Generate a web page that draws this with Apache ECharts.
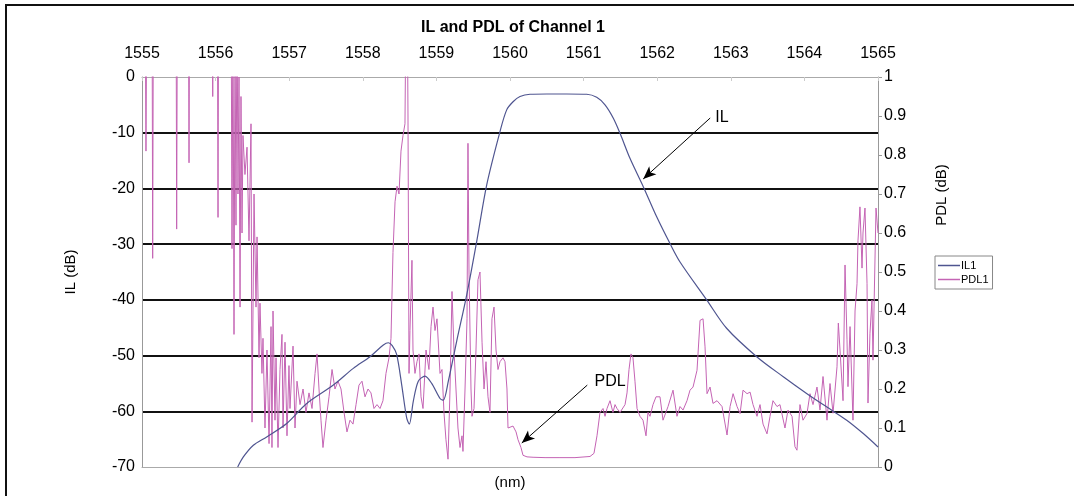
<!DOCTYPE html>
<html>
<head>
<meta charset="utf-8">
<script src="https://cdn.jsdelivr.net/npm/echarts@6/dist/echarts.min.js"></script>
<style>
  html, body { margin: 0; padding: 0; background: #fff; }
  #chart { width: 1074px; height: 496px; }
</style>
</head>
<body>
<div id="chart"></div>
<script>
// wavelength ticks (nm)
var wlTicks = [1555, 1556, 1557, 1558, 1559, 1560, 1561, 1562, 1563, 1564, 1565];

// IL1 : wavelength (nm) / insertion loss (dB)
var ilWl = [1556.30, 1556.377, 1556.513, 1556.694, 1556.966, 1557.238, 1557.60, 1557.871, 1558.098, 1558.279,
  1558.347, 1558.40, 1558.46, 1558.528, 1558.596, 1558.632, 1558.686, 1558.754, 1558.845, 1558.936,
  1559.049, 1559.094, 1559.162, 1559.276, 1559.412, 1559.548, 1559.683, 1559.864, 1559.955, 1560.045,
  1560.136, 1560.272, 1560.50, 1560.77, 1561.042, 1561.178, 1561.291, 1561.404, 1561.495, 1561.63,
  1561.811, 1561.993, 1562.174, 1562.31, 1562.672, 1562.943, 1563.352, 1563.713, 1564.03, 1564.30,
  1564.575, 1564.80, 1565.0];
var ilDb = [-70, -68.2, -66.1, -64.6, -62.2, -58.6, -55.3, -52.3, -50.2, -48.1,
  -47.7, -48.2, -49.8, -55.2, -61.2, -62.3, -58.2, -54.6, -53.7, -55.0,
  -57.7, -58.0, -54.6, -47.4, -39.1, -29.5, -19.4, -9.8, -5.9, -4.4,
  -3.5, -3.1, -3.05, -3.05, -3.1, -3.65, -5.0, -7.4, -10.1, -14.6,
  -19.7, -25.1, -29.9, -33.2, -40.0, -45.1, -50.2, -53.8, -56.8, -59.2,
  -61.6, -64.0, -66.4];

// PDL1 : wavelength offset from 1555 nm / polarization dependent loss (dB)
var pdlWl = [0.000, 0.041, 0.054, 0.068, 0.136, 0.145, 0.156, 0.462, 0.471, 0.482,
  0.629, 0.639, 0.648, 0.951, 0.961, 0.970, 1.023, 1.033, 1.042, 1.209,
  1.223, 1.236, 1.250, 1.264, 1.277, 1.291, 1.304, 1.318, 1.332, 1.345,
  1.359, 1.372, 1.399, 1.427, 1.454, 1.481, 1.495, 1.522, 1.549, 1.563,
  1.590, 1.603, 1.630, 1.644, 1.671, 1.698, 1.726, 1.753, 1.766, 1.780,
  1.807, 1.821, 1.848, 1.875, 1.902, 1.916, 1.943, 1.970, 1.997, 2.011,
  2.052, 2.079, 2.106, 2.147, 2.188, 2.228, 2.269, 2.310, 2.351, 2.378,
  2.405, 2.432, 2.459, 2.500, 2.541, 2.582, 2.622, 2.663, 2.704, 2.745,
  2.785, 2.826, 2.867, 2.908, 2.948, 2.989, 3.030, 3.071, 3.111, 3.152,
  3.193, 3.234, 3.274, 3.315, 3.356, 3.383, 3.410, 3.438, 3.465, 3.492,
  3.519, 3.546, 3.573, 3.587, 3.601, 3.614, 3.628, 3.641, 3.668, 3.682,
  3.709, 3.736, 3.764, 3.791, 3.818, 3.859, 3.899, 3.927, 3.954, 3.981,
  4.008, 4.049, 4.076, 4.103, 4.130, 4.158, 4.185, 4.212, 4.239, 4.266,
  4.293, 4.321, 4.348, 4.361, 4.389, 4.416, 4.429, 4.443, 4.470, 4.484,
  4.511, 4.538, 4.565, 4.592, 4.620, 4.647, 4.674, 4.701, 4.728, 4.755,
  4.783, 4.810, 4.837, 4.864, 4.905, 4.932, 4.959, 4.973, 5.000, 5.041,
  5.082, 5.109, 5.149, 5.177, 5.231, 5.313, 5.476, 5.679, 5.883, 6.087,
  6.141, 6.182, 6.223, 6.264, 6.291, 6.318, 6.359, 6.399, 6.427, 6.454,
  6.495, 6.522, 6.563, 6.590, 6.617, 6.644, 6.671, 6.698, 6.726, 6.766,
  6.807, 6.848, 6.875, 6.902, 6.943, 6.984, 7.038, 7.079, 7.147, 7.215,
  7.269, 7.310, 7.351, 7.405, 7.446, 7.487, 7.541, 7.582, 7.623, 7.650,
  7.677, 7.718, 7.758, 7.813, 7.881, 7.949, 7.990, 8.031, 8.085, 8.126,
  8.166, 8.221, 8.262, 8.302, 8.356, 8.397, 8.438, 8.492, 8.533, 8.573,
  8.628, 8.668, 8.736, 8.777, 8.832, 8.872, 8.899, 8.940, 8.981, 9.035,
  9.076, 9.117, 9.171, 9.212, 9.253, 9.307, 9.348, 9.389, 9.443, 9.461,
  9.484, 9.525, 9.552, 9.579, 9.592, 9.620, 9.660, 9.688, 9.715, 9.728,
  9.755, 9.783, 9.796, 9.823, 9.851, 9.864, 9.891, 9.918, 9.932, 9.973,
  10.000];
var pdlDb = [1.3, 1.3, 0.81, 1.3, 1.3, 0.535, 1.3, 1.3, 0.61, 1.3,
  1.3, 0.78, 1.3, 1.3, 0.95, 1.3, 1.3, 0.64, 1.3, 1.3,
  0.56, 1.2, 0.34, 1.1, 0.62, 1.2, 0.70, 1.0, 0.41, 0.95,
  0.60, 0.85, 0.75, 0.82, 0.58, 0.88, 0.115, 0.70, 0.41, 0.59,
  0.28, 0.42, 0.24, 0.33, 0.10, 0.30, 0.06, 0.36, 0.05, 0.40,
  0.12, 0.28, 0.05, 0.25, 0.34, 0.10, 0.32, 0.08, 0.26, 0.15,
  0.31, 0.10, 0.22, 0.16, 0.20, 0.14, 0.19, 0.15, 0.24, 0.29,
  0.20, 0.12, 0.05, 0.12, 0.18, 0.25, 0.20, 0.22, 0.20, 0.14,
  0.09, 0.12, 0.11, 0.16, 0.21, 0.22, 0.18, 0.20, 0.19, 0.15,
  0.16, 0.15, 0.17, 0.24, 0.28, 0.33, 0.55, 0.68, 0.72, 0.70,
  0.81, 0.85, 0.88, 1.2, 1.3, 0.9, 0.24, 0.35, 0.53, 0.30,
  0.24, 0.27, 0.29, 0.18, 0.15, 0.30, 0.25, 0.36, 0.41, 0.35,
  0.38, 0.24, 0.25, 0.14, 0.07, 0.02, 0.20, 0.45, 0.30, 0.20,
  0.10, 0.05, 0.08, 0.04, 0.20, 0.38, 0.83, 0.50, 0.20, 0.13,
  0.15, 0.30, 0.48, 0.50, 0.32, 0.20, 0.27, 0.18, 0.14, 0.38,
  0.41, 0.30, 0.25, 0.27, 0.28, 0.27, 0.20, 0.10, 0.10, 0.105,
  0.09, 0.07, 0.05, 0.03, 0.026, 0.025, 0.024, 0.024, 0.024, 0.027,
  0.035, 0.08, 0.14, 0.15, 0.13, 0.15, 0.17, 0.14, 0.16, 0.15,
  0.14, 0.14, 0.16, 0.19, 0.25, 0.29, 0.28, 0.22, 0.15, 0.13,
  0.12, 0.08, 0.14, 0.13, 0.16, 0.18, 0.18, 0.12, 0.155, 0.197,
  0.13, 0.155, 0.146, 0.17, 0.197, 0.205, 0.248, 0.376, 0.38, 0.308,
  0.188, 0.205, 0.163, 0.17, 0.155, 0.082, 0.155, 0.188, 0.155, 0.137,
  0.197, 0.188, 0.192, 0.16, 0.13, 0.16, 0.11, 0.085, 0.13, 0.17,
  0.155, 0.16, 0.10, 0.146, 0.13, 0.052, 0.043, 0.16, 0.12, 0.137,
  0.188, 0.16, 0.205, 0.146, 0.232, 0.12, 0.214, 0.138, 0.257, 0.369,
  0.30, 0.17, 0.518, 0.326, 0.206, 0.36, 0.12, 0.40, 0.47, 0.58,
  0.667, 0.51, 0.60, 0.664, 0.47, 0.164, 0.343, 0.428, 0.274, 0.664,
  0.60];

// 标注箭头
var ilNote = { text: 'IL', from: [1562.72, -7.36], to: [1561.81, -18.3], at: [1562.88, -7.2] };
var pdlNote = { text: 'PDL', from: [1561.05, -55.3], to: [1560.16, -65.7], at: [1561.36, -54.6] };

var ilData = ilWl.map(function (w, i) { return [w, ilDb[i]]; });
var pdlData = pdlWl.map(function (w, i) { return [1555 + w, pdlDb[i]]; });

var font = 'Liberation Sans, Arial, sans-serif';
var myChart = echarts.init(document.getElementById('chart'), null, { renderer: 'canvas' });

var option = {
    animation: false,
    textStyle: { fontFamily: font },
    title: {
        text: 'IL and PDL of Channel 1',
        left: 416,
        top: 15,
        textStyle: { fontSize: 16, fontWeight: 'bold', color: '#000', fontFamily: font }
    },
    legend: {
        data: ['IL1', 'PDL1'],
        orient: 'vertical',
        left: 935,
        top: 256,
        icon: 'rect',
        itemWidth: 22,
        itemHeight: 1.5,
        itemGap: 3,
        padding: [4, 4, 4, 3],
        borderColor: '#888',
        borderWidth: 1,
        textStyle: { fontSize: 11, color: '#000', fontFamily: font, padding: [0, 0, 0, -4] }
    },
    grid: { left: 142, right: 196, top: 77, bottom: 29 },
    xAxis: [{
        type: 'value',
        position: 'top',
        min: wlTicks[0],
        max: wlTicks[wlTicks.length - 1],
        interval: 1,
        axisLine: { show: true, lineStyle: { color: '#aaa', width: 1 } },
        axisTick: { show: true, inside: true, length: 4, lineStyle: { color: '#ccc' } },
        axisLabel: {
            fontSize: 16, color: '#000', margin: 15, fontFamily: font,
            formatter: function (v) { return String(v); }
        },
        splitLine: { show: false }
    }, {
        type: 'value',
        position: 'bottom',
        min: wlTicks[0],
        max: wlTicks[wlTicks.length - 1],
        interval: 1,
        name: '(nm)',
        nameLocation: 'middle',
        nameGap: 8,
        nameTextStyle: { fontSize: 15, color: '#000', fontFamily: font },
        axisLine: { show: true, lineStyle: { color: '#aaa', width: 1 } },
        axisTick: { show: false },
        axisLabel: { show: false },
        splitLine: { show: false }
    }],
    yAxis: [{
        type: 'value',
        min: -70,
        max: 0,
        interval: 10,
        name: 'IL (dB)',
        nameLocation: 'middle',
        nameGap: 64,
        nameTextStyle: { fontSize: 15, color: '#000', fontFamily: font },
        axisLine: { show: true, lineStyle: { color: '#999' } },
        axisTick: { show: false },
        axisLabel: { fontSize: 16, color: '#000', margin: 7, fontFamily: font },
        splitLine: {
            show: true,
            showMinLine: false,
            showMaxLine: false,
            lineStyle: { color: '#111', width: 2 }
        }
    }, {
        type: 'value',
        position: 'right',
        min: 0,
        max: 1,
        interval: 0.1,
        axisLine: { show: true, lineStyle: { color: '#999' } },
        axisTick: { show: true, length: 4, lineStyle: { color: '#999' } },
        axisLabel: { fontSize: 16, color: '#000', margin: 6, fontFamily: font },
        splitLine: { show: false }
    }],
    graphic: [{
        type: 'rect',
        silent: true,
        shape: { x: 6, y: 5, width: 1100, height: 600 },
        style: { fill: 'none', stroke: '#111', lineWidth: 2 }
    }, {
        type: 'text',
        silent: true,
        x: 942,
        y: 195,
        rotation: Math.PI / 2,
        style: {
            text: 'PDL (dB)', fontSize: 15, fill: '#000', fontFamily: font,
            textAlign: 'center', textVerticalAlign: 'middle'
        }
    }],
    series: [{
        name: 'IL1',
        type: 'line',
        xAxisIndex: 0,
        yAxisIndex: 0,
        data: ilData,
        showSymbol: false,
        smooth: 0.3,
        clip: true,
        z: 3,
        lineStyle: { color: '#4f5590', width: 1.2 },
        itemStyle: { color: '#4f5590' },
        markLine: {
            silent: true,
            symbol: ['none', 'arrow'],
            symbolSize: [8, 13],
            lineStyle: { color: '#000', width: 1, type: 'solid' },
            label: { show: false },
            data: [
                [{ coord: ilNote.from }, { coord: ilNote.to }],
                [{ coord: pdlNote.from }, { coord: pdlNote.to }]
            ]
        },
        markPoint: {
            silent: true,
            symbol: 'rect',
            symbolSize: 1,
            itemStyle: { color: 'rgba(0,0,0,0)' },
            label: { show: true, position: 'inside', fontSize: 16, color: '#000', fontFamily: font,
                formatter: function (p) { return p.name; } },
            data: [
                { name: ilNote.text, coord: ilNote.at },
                { name: pdlNote.text, coord: pdlNote.at }
            ]
        }
    }, {
        name: 'PDL1',
        type: 'line',
        xAxisIndex: 0,
        yAxisIndex: 1,
        data: pdlData,
        showSymbol: false,
        clip: true,
        z: 2,
        lineStyle: { color: '#c464b4', width: 1 },
        itemStyle: { color: '#c464b4' }
    }]
};
myChart.setOption(option);
</script>
</body>
</html>
